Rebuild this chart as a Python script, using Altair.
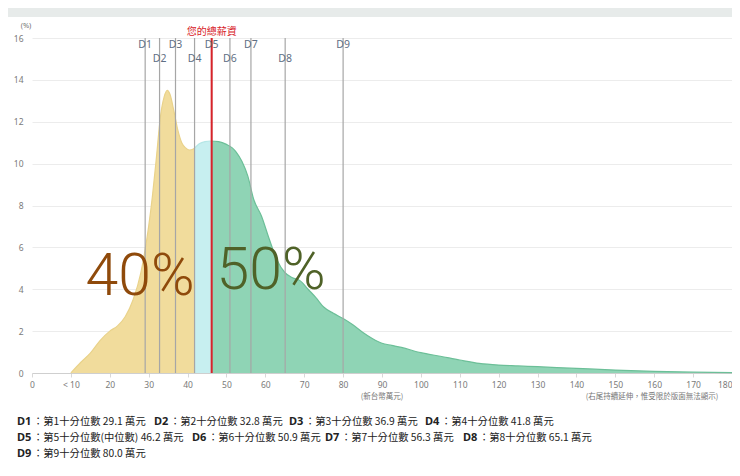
import altair as alt
import pandas as pd

# ---------------- data ----------------
income = [10, 12.5, 15, 17.5, 20, 22, 24, 26, 28, 30, 31, 32, 33, 34, 34.8, 35.5,
          36.5, 37.5, 38.5, 39.5, 40.5, 41.5, 43, 44.5, 46, 48, 50, 51.5, 52.5, 54,
          55.5, 57, 59, 61, 63, 65, 67, 69, 71, 73, 75, 77.5, 80, 82.5, 85, 87.5,
          90, 92.5, 95, 100, 105, 110, 115, 120, 125, 130, 140, 150, 160, 170, 180]
density = [0, 0.5, 0.95, 1.55, 2.0, 2.25, 2.7, 3.5, 4.8, 7.0, 8.5, 10.3, 12.2, 13.2,
           13.5, 13.3, 12.5, 11.6, 11.0, 10.75, 10.65, 10.7, 10.95, 11.05, 11.08,
           11.05, 10.92, 10.75, 10.55, 10.1, 9.4, 8.3, 7.5, 6.4, 5.4, 4.8, 4.55, 4.4,
           4.0, 3.6, 3.15, 2.85, 2.6, 2.3, 1.95, 1.65, 1.42, 1.32, 1.22, 0.97, 0.8,
           0.62, 0.46, 0.38, 0.34, 0.3, 0.22, 0.14, 0.08, 0.04, 0.02]

decile_names = ["D1", "D2", "D3", "D4", "D5", "D6", "D7", "D8", "D9"]
decile_values = [29.1, 32.8, 36.9, 41.8, 46.2, 50.9, 56.3, 65.1, 80.0]
decile_desc = ["第1十分位數", "第2十分位數", "第3十分位數", "第4十分位數",
               "第5十分位數(中位數)", "第6十分位數", "第7十分位數",
               "第8十分位數", "第9十分位數"]

salary_label = "您的總薪資"
salary_value = 46.2
share_labels = ["40%", "50%"]
x_ticks = list(range(0, 181, 10))
y_ticks = list(range(0, 17, 2))
unit_note = "(新台幣萬元)"
tail_note = "(右尾持續延伸，惟受限於版面無法顯示)"
y_unit = "(%)"

# ---------------- layout ----------------
W, H = 700, 335
CJK = "Noto Sans CJK TC"
YELLOW, CYAN, GREEN = "#f1dc9c", "#c7eff0", "#8fd4b5"
YELLOW_S, CYAN_S, GREEN_S = "#e9d28a", "#b5e6e6", "#6cbf98"
RED = "#d8232a"

curve = pd.DataFrame({"income": income, "density": density})
xmin, xmax = min(income), max(income)
o4 = (decile_values[3] - xmin) / (xmax - xmin)
o5 = (salary_value - xmin) / (xmax - xmin)


def grad(c1, c2, c3):
    return {"gradient": "linear", "x1": 0, "x2": 1, "y1": 0, "y2": 0,
            "stops": [{"offset": 0, "color": c1}, {"offset": o4, "color": c1},
                      {"offset": o4, "color": c2}, {"offset": o5, "color": c2},
                      {"offset": o5, "color": c3}, {"offset": 1, "color": c3}]}


xscale = alt.Scale(domain=[0, 180], nice=False, zero=False)
yscale = alt.Scale(domain=[0, 16], nice=False)

xaxis = alt.Axis(values=x_ticks, grid=False, title=None,
                 labelExpr="datum.value == 10 ? '< 10' : datum.label",
                 labelAlign={"expr": "datum.value == 180 ? 'right' : 'center'"},
                 domainColor="#cfcfcf", tickColor="#d8d8d8", tickSize=4,
                 labelFontSize=8.5, labelColor="#7a7a7a", labelPadding=3,
                 labelFlush=False, labelOverlap=False, labelBound=False,
                 labelFont="Noto Sans")
yaxis = alt.Axis(values=y_ticks, grid=True, gridColor="#ececec", domain=False,
                 ticks=False, title=None, labelPadding=9, labelFontSize=8.5,
                 labelColor="#7a7a7a", labelFont="Noto Sans", labelOverlap=False)


def X(field):
    return alt.X(field, type="quantitative", scale=xscale, axis=xaxis)


def Y(field):
    return alt.Y(field, type="quantitative", scale=yscale, axis=yaxis)


base = alt.Chart(curve)

area = base.mark_area(interpolate="monotone", fill=grad(YELLOW, CYAN, GREEN),
                      strokeWidth=0).encode(x=X("income"), y=Y("density"))
outline = base.mark_line(interpolate="monotone", stroke=grad(YELLOW_S, CYAN_S, GREEN_S),
                         strokeWidth=1.2).encode(x=X("income"), y=Y("density"))

dec = pd.DataFrame({"name": decile_names, "value": decile_values,
                    "tier": [i % 2 for i in range(9)]})
dec_rules = alt.Chart(dec).mark_rule(color="#a6a6a6", strokeWidth=1.2).encode(
    x=X("value"), y=alt.value(0), y2=alt.value(H))
sal = pd.DataFrame({"label": [salary_label], "value": [salary_value]})
sal_rule = alt.Chart(sal).mark_rule(color=RED, strokeWidth=2).encode(
    x=X("value"), y=alt.value(0), y2=alt.value(H))
sal_text = alt.Chart(sal).mark_text(color=RED, fontSize=10, font=CJK).encode(
    x=X("value"), y=alt.value(-6), text="label:N")

dec_odd = alt.Chart(dec).transform_filter("datum.tier == 0").mark_text(
    fontSize=10.5, color="#5f6f84", font="Noto Sans").encode(
    x=X("value"), y=alt.value(7), text="name:N")
dec_even = alt.Chart(dec).transform_filter("datum.tier == 1").mark_text(
    fontSize=10.5, color="#5f6f84", font="Noto Sans").encode(
    x=X("value"), y=alt.value(20.5), text="name:N")

one = pd.DataFrame({"a": [0]})
band = alt.Chart(one).mark_rect(color="#e7ebea").encode(
    x=alt.value(-24), x2=alt.value(W), y=alt.value(-30), y2=alt.value(-21))

share40 = alt.Chart(one).mark_text(text=share_labels[0], fontSize=59, color="#8f4a0b",
                                   font="Roboto", fontWeight=300, baseline="alphabetic").encode(
    x=alt.value(108), y=alt.value(257))
share50 = alt.Chart(one).mark_text(text=share_labels[1], fontSize=59, color="#4f6228",
                                   font="Roboto", fontWeight=300, baseline="alphabetic").encode(
    x=alt.value(239), y=alt.value(251))

yunit = alt.Chart(one).mark_text(text=y_unit, fontSize=7.5, color="#777777",
                                 font="Noto Sans").encode(x=alt.value(-6), y=alt.value(-12))
unit = alt.Chart(one).mark_text(text=unit_note, fontSize=7.5, color="#777777",
                                font=CJK).encode(x=alt.value(350), y=alt.value(359))
tail = alt.Chart(one).mark_text(text=tail_note, fontSize=7.5, color="#777777",
                                font=CJK).encode(x=alt.value(620), y=alt.value(359))

# footnote layout: (line index, label x position) for each decile
foot_pos = [(0, -15), (0, 122), (0, 257), (0, 393),
            (1, -15), (1, 160), (1, 293), (1, 431), (2, -15)]
foot_y = [383.7, 399.5, 415.5]
foot_layers = []
for name, val, desc, (ln, px) in zip(decile_names, decile_values, decile_desc, foot_pos):
    foot_layers.append(alt.Chart(one).mark_text(
        text=name, fontSize=11, fontWeight="bold", font="Noto Sans", color="#222222",
        align="left", baseline="middle").encode(x=alt.value(px), y=alt.value(foot_y[ln])))
    foot_layers.append(alt.Chart(one).mark_text(
        text=f"：{desc} {val:.1f} 萬元", fontSize=10.3, font=CJK, color="#222222",
        align="left", baseline="middle").encode(x=alt.value(px + 16), y=alt.value(foot_y[ln])))

chart = alt.layer(
    band, area, outline, dec_rules, sal_rule, dec_odd, dec_even, sal_text,
    share40, share50, yunit, unit, tail, *foot_layers
).properties(
    width=W, height=H,
    padding={"left": 24, "top": 30, "right": 0, "bottom": 95},
    autosize=alt.AutoSizeParams(type="none"),
    background="white",
).configure_view(strokeWidth=0)

chart.save("out.html", embed_options={"renderer": "svg", "actions": False})
